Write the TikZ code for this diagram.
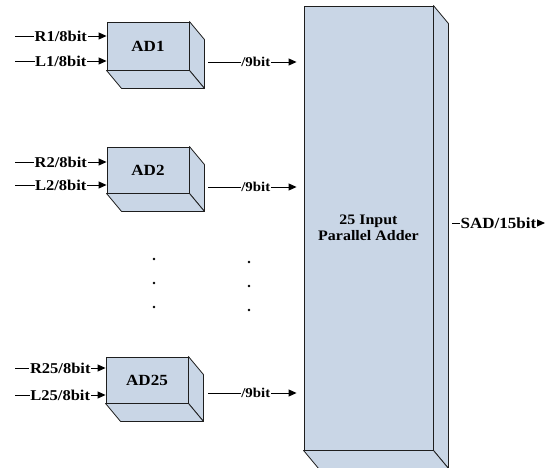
\documentclass[tikz,border=0pt]{standalone}
\usepackage{fontspec}
\setmainfont{Liberation Serif}[FakeStretch=1.1]
\usetikzlibrary{arrows.meta}
\definecolor{boxblue}{RGB}{201,214,230}
\definecolor{edgegray}{RGB}{30,30,30}
\tikzset{
  blk/.style={draw=edgegray,fill=boxblue,line width=0.9pt,inner sep=0pt,
    font=\bfseries\fontsize{15.5}{17}\selectfont},
  face/.style={draw=edgegray,fill=boxblue,line width=0.8pt,line join=round},
  arr/.style={draw=black,line width=0.9pt,-{Triangle[length=8pt,width=7pt]}},
  lbl/.style={fill=white,inner sep=0.6pt,font=\bfseries\fontsize{15}{17}\selectfont},
  lbls/.style={fill=white,inner sep=0.6pt,font=\bfseries\fontsize{13.5}{15}\selectfont},
  dot/.style={fill=black,circle,inner sep=0pt,minimum size=2.8pt}
}
\begin{document}
\begin{tikzpicture}[x=1pt,y=-1pt]
\useasboundingbox (0,0) rectangle (560,468);
% blocks
\node[blk,minimum width=82pt,minimum height=48pt] (ad1) at (148,46) {AD1};
\node[blk,minimum width=82pt,minimum height=46pt] (ad2) at (148,170) {AD2};
\node[blk,minimum width=82pt,minimum height=46pt] (ad25) at (147,380) {AD25};
\node[blk,minimum width=129pt,minimum height=444pt,align=center,
  font=\bfseries\fontsize{14.5}{17}\selectfont] (adder) at (368.5,228) {25 Input\\[-1pt]Parallel Adder};
% 3D faces
\foreach \n in {ad1,ad2,ad25,adder}{
  \path[face] (\n.north east) -- ++(15,18) -- ([shift={(15,18)}]\n.south east) -- (\n.south east) -- cycle;
  \path[face] (\n.south west) -- ++(15,18) -- ([shift={(15,18)}]\n.south east) -- (\n.south east) -- cycle;
}
% inputs
\coordinate (r1) at (15,36);
\coordinate (l1) at (15,61);
\coordinate (r2) at (15,162);
\coordinate (l2) at (15,185);
\coordinate (r25) at (15,368);
\coordinate (l25) at (15,395);
\draw[arr] (r1) -- node[lbl]{R1/8bit} (r1 -| ad1.west);
\draw[arr] (l1) -- node[lbl]{L1/8bit} (l1 -| ad1.west);
\draw[arr] (r2) -- node[lbl]{R2/8bit} (r2 -| ad2.west);
\draw[arr] (l2) -- node[lbl]{L2/8bit} (l2 -| ad2.west);
\draw[arr] (r25) -- node[lbl]{R25/8bit} (r25 -| ad25.west);
\draw[arr] (l25) -- node[lbl]{L25/8bit} (l25 -| ad25.west);
% outputs
\coordinate (o1) at (208,62);
\coordinate (o2) at (208,187);
\coordinate (o25) at (208,393);
\draw[arr,shorten >=7pt] (o1) -- node[lbls]{/9bit} (o1 -| adder.west);
\draw[arr,shorten >=7pt] (o2) -- node[lbls]{/9bit} (o2 -| adder.west);
\draw[arr,shorten >=7pt] (o25) -- node[lbls]{/9bit} (o25 -| adder.west);
\coordinate (s) at (452,223);
\coordinate (se) at (545,223);
\draw[arr] (s) -- node[lbl,font=\bfseries\fontsize{15.5}{17}\selectfont]{SAD/15bit} (se);
% dots
\foreach \y in {259,283,307}{\node[dot] at (154,\y) {};}
\foreach \y in {262,286,310}{\node[dot] at (249,\y) {};}
\end{tikzpicture}
\end{document}
